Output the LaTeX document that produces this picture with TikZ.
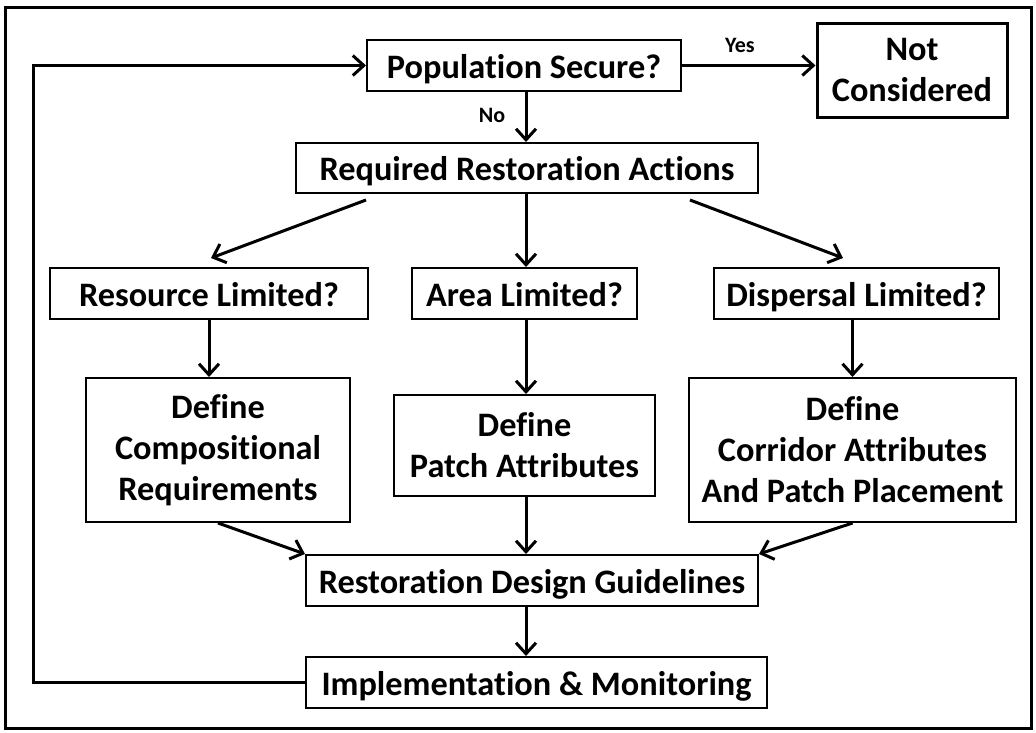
\documentclass[tikz,border=0pt]{standalone}
\usepackage{fontspec}
\setmainfont{Carlito}[RawFeature={-liga;-clig}]
\usetikzlibrary{arrows.meta,calc}
\begin{document}
\begin{tikzpicture}[x=1pt,y=-1pt,
  box/.style={draw=black,line width=2pt,align=center,inner sep=0pt,
    font=\fontsize{34.3}{41}\selectfont\bfseries},
  one/.style={text height=25pt,text depth=0pt},
  arr/.style={line width=3pt,-{Straight Barb[length=11pt,width=20pt,line width=3pt]}},
  lab/.style={font=\fontsize{22}{26}\selectfont\bfseries,inner sep=0pt}]
\useasboundingbox (0,0) rectangle (1036,732);
\draw[line width=3pt] (5,7) rectangle (1031,728);
\node[box,one,minimum width=314pt,minimum height=51pt] (ps) at (524,65.5) {Population Secure?};
\node[box,line width=3pt,minimum width=190pt,minimum height=94pt] (nc) at (912,70) {Not\\Considered};
\node[box,one,minimum width=462pt,minimum height=50pt] (rra) at (527,168) {Required Restoration Actions};
\node[box,one,minimum width=318pt,minimum height=51pt] (rl) at (209,293.5) {Resource Limited?};
\node[box,one,minimum width=225pt,minimum height=51pt] (al) at (524.5,293.5) {Area Limited?};
\node[box,one,minimum width=285pt,minimum height=51pt] (dl) at (856.5,293.5) {Dispersal Limited?};
\node[box,minimum width=264pt,minimum height=144pt] (cr) at (218,450) {Define\\Compositional\\Requirements};
\node[box,minimum width=261pt,minimum height=101pt] (pa) at (524.5,445.5) {Define\\Patch Attributes};
\node[box,minimum width=327pt,minimum height=144pt] (co) at (852.5,450) {Define\\Corridor Attributes\\And Patch Placement};
\node[box,one,minimum width=452pt,minimum height=51pt] (rdg) at (532,580.5) {Restoration Design Guidelines};
\node[box,one,minimum width=461pt,minimum height=51pt] (im) at (536.5,682.5) {Implementation \& Monitoring};
\node[lab] (yes) at (740,45) {Yes};
\node[lab] (no) at (492,115) {No};
\coordinate (sp) at (526,0);
\coordinate (fb) at (33,0);
\draw[arr] (ps.east) -- (ps.east -| nc.west);
\draw[arr] (ps.south -| sp) -- (rra.north -| sp);
\draw[arr] ($(rra.south west)+(71,6)$) -- ($(rl.north)+(2,-9)$);
\draw[arr] (rra.south -| sp) -- (al.north -| sp);
\draw[arr] ($(rra.south east)+(-69,6)$) -- ($(dl.north)+(-13.5,-9)$);
\draw[arr] (rl.south) -- (rl.south |- cr.north);
\draw[arr] (al.south -| sp) -- (pa.north -| sp);
\draw[arr] (dl.south -| co.north) -- (co.north);
\draw[arr] (cr.south) -- (rdg.north west);
\draw[arr] (pa.south -| sp) -- (rdg.north -| sp);
\draw[arr] (co.south) -- (rdg.north east);
\draw[arr] (rdg.south -| sp) -- (im.north -| sp);
\draw[arr] (im.west) -- (im.west -| fb) -- (ps.west -| fb) -- (ps.west);
\end{tikzpicture}
\end{document}
